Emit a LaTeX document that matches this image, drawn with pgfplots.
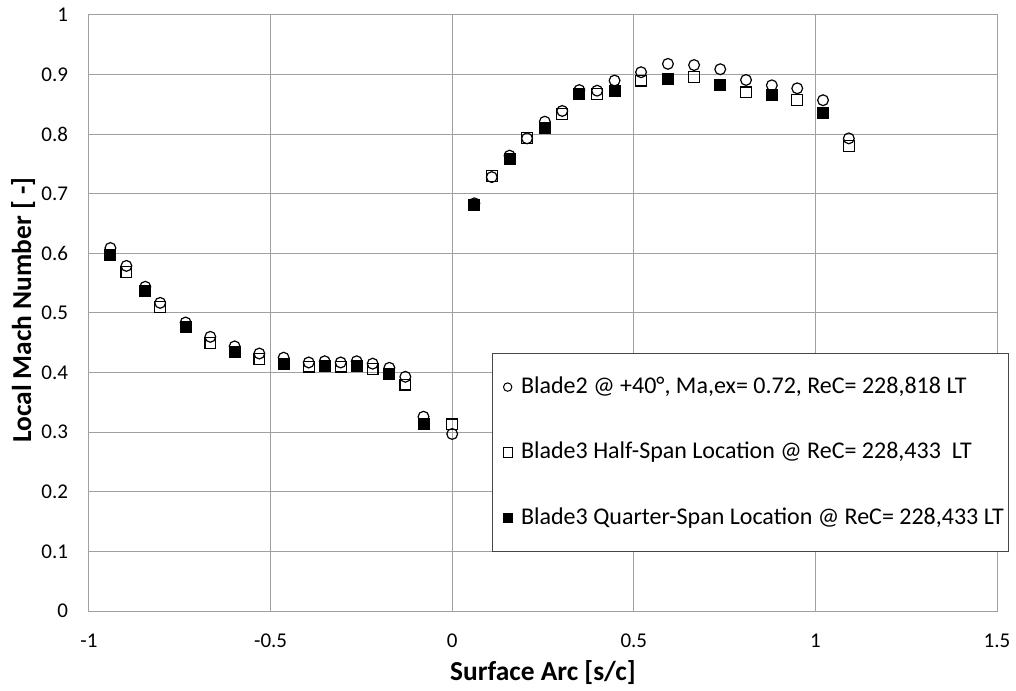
\documentclass[border=0pt]{standalone}
\usepackage{fontspec}
\setmainfont{Carlito}
\usepackage{pgfplots}
\pgfplotsset{compat=1.18}
\definecolor{gridgray}{RGB}{160,160,160}
\definecolor{legbord}{RGB}{70,70,70}
\pgfplotsset{
  legcirc/.style={legend image code/.code={\path[draw=none,fill=none] (-5.1pt,0pt) -- (2.6pt,0pt);
    \draw[##1, mark size=2.1pt, mark options={line width=0.5pt}] plot coordinates {(0pt,0pt)};}},
  legsq/.style={legend image code/.code={\path[draw=none,fill=none] (-5.1pt,0pt) -- (2.6pt,0pt);
    \draw[##1, mark size=2.3pt, mark options={line width=0.5pt}] plot coordinates {(0pt,0pt)};}},
}
\begin{document}
\begin{tikzpicture}
\path[use as bounding box] (-44.5pt,-39.5pt) rectangle (463.5pt,305.5pt);
\begin{axis}[
  at={(0pt,0pt)}, anchor=south west,
  scale only axis, width=454pt, height=298pt,
  xmin=-1, xmax=1.5, ymin=0, ymax=1,
  xtick={-1,-0.5,0,0.5,1,1.5}, xticklabels={-1,-0.5,0,0.5,1,1.5},
  ytick={0,0.1,0.2,0.3,0.4,0.5,0.6,0.7,0.8,0.9,1},
  yticklabels={0,0.1,0.2,0.3,0.4,0.5,0.6,0.7,0.8,0.9,1},
  major tick length=0pt,
  grid=major, grid style={gridgray, line width=0.5pt},
  axis line style={gridgray, line width=0.5pt},
  tick label style={font=\fontsize{10.5}{12}\selectfont, inner sep=0pt},
  xticklabel style={anchor=north, yshift=-11.2pt},
  yticklabel style={anchor=east, xshift=-10.3pt},
  xlabel={Surface Arc [s/c]}, ylabel={Local Mach Number [ -]},
  label style={font=\fontsize{13.7}{15}\selectfont\bfseries},
  xlabel style={at={(axis description cs:0.5,-0.104)}, anchor=center},
  ylabel style={at={(axis description cs:-0.0724,0.505)}, anchor=center},
  legend cell align=left,
  legend style={at={(axis description cs:0.4438,0.4329)}, anchor=north west,
    draw=legbord, line width=0.5pt, fill=white,
    font=\fontsize{12}{14}\selectfont,
    inner xsep=2.5pt, inner ysep=11.2pt, row sep=21.5pt, column sep=4.1pt,
    nodes={inner sep=0pt, text height=8.7pt, text depth=2.5pt}},
]
\addplot[only marks, mark=o, color=black, mark size=2.7pt, mark options={line width=0.6pt}, legcirc]
table {
x y
-0.941 0.609
-0.897 0.579
-0.845 0.544
-0.804 0.517
-0.734 0.484
-0.666 0.460
-0.599 0.444
-0.531 0.432
-0.464 0.425
-0.395 0.417
-0.351 0.419
-0.307 0.417
-0.263 0.419
-0.219 0.415
-0.173 0.408
-0.129 0.393
-0.079 0.326
0.000 0.297
0.061 0.684
0.109 0.728
0.158 0.764
0.206 0.793
0.255 0.821
0.303 0.839
0.350 0.874
0.399 0.873
0.447 0.890
0.520 0.904
0.594 0.918
0.666 0.916
0.738 0.909
0.809 0.891
0.880 0.882
0.950 0.877
1.021 0.857
1.092 0.793
};
\addlegendentry{Blade2 @ +40°, Ma,ex= 0.72, ReC= 228,818 LT}
\addplot[only marks, mark=square, color=black, mark size=2.7pt, mark options={line width=0.6pt}, legsq]
table {
x y
-0.897 0.569
-0.804 0.510
-0.666 0.450
-0.531 0.423
-0.395 0.410
-0.307 0.410
-0.219 0.406
-0.129 0.380
0.000 0.313
0.109 0.730
0.206 0.794
0.303 0.834
0.399 0.867
0.520 0.890
0.666 0.896
0.809 0.870
0.950 0.857
1.092 0.780
};
\addlegendentry{Blade3 Half-Span Location @ ReC= 228,433~~LT}
\addplot[only marks, mark=square*, color=black, fill=black, mark size=2.7pt, mark options={line width=0.6pt}, legsq]
table {
x y
-0.941 0.598
-0.845 0.537
-0.734 0.477
-0.599 0.434
-0.464 0.415
-0.351 0.411
-0.263 0.411
-0.173 0.397
-0.079 0.313
0.061 0.682
0.158 0.758
0.255 0.811
0.350 0.867
0.447 0.873
0.594 0.892
0.738 0.882
0.880 0.866
1.021 0.836
};
\addlegendentry{Blade3 Quarter-Span Location @ ReC= 228,433 LT}
\end{axis}
\end{tikzpicture}
\end{document}
